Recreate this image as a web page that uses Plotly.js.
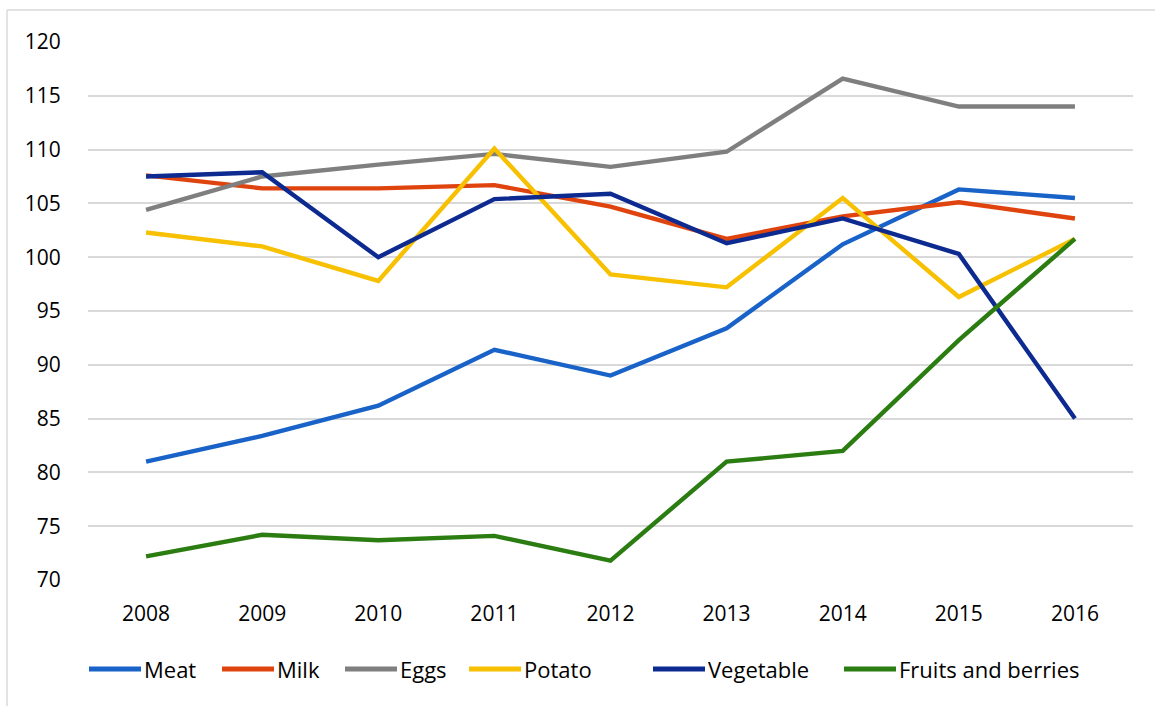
<!DOCTYPE html>
<html>
<head>
<meta charset="utf-8">
<script src="https://cdn.plot.ly/plotly-3.0.1.min.js"></script>
<style>
html,body{margin:0;padding:0;background:#fff;}
#chart{width:1155px;height:706px;}
</style>
</head>
<body>
<div id="chart"></div>
<script>
var years = ["2008","2009","2010","2011","2012","2013","2014","2015","2016"];
var meat = [81.0, 83.4, 86.2, 91.4, 89.0, 93.4, 101.2, 106.3, 105.5];
var milk = [107.6, 106.4, 106.4, 106.7, 104.7, 101.7, 103.8, 105.1, 103.6];
var eggs = [104.4, 107.5, 108.6, 109.6, 108.4, 109.8, 116.6, 114.0, 114.0];
var potato = [102.3, 101.0, 97.8, 110.1, 98.4, 97.2, 105.5, 96.3, 101.7];
var vegetable = [107.5, 107.9, 100.0, 105.4, 105.9, 101.3, 103.6, 100.3, 85.0];
var fruits = [72.2, 74.2, 73.7, 74.1, 71.8, 81.0, 82.0, 92.3, 101.7];

var seriesNames = ["Meat","Milk","Eggs","Potato","Vegetable","Fruits and berries"];
var seriesValues = [meat, milk, eggs, potato, vegetable, fruits];
var seriesColors = ["#1862c8","#e0440e","#7f7f7f","#f7c000","#0c2a90","#2b7d12"];

var traces = seriesNames.map(function(n,i){
  return {
    type:"scatter", mode:"lines", name:n, x:years, y:seriesValues[i],
    line:{color:seriesColors[i], width:4.4},
    hoverinfo:"x+y+name"
  };
});

var font = {family:"'Open Sans', 'Liberation Sans', Arial, sans-serif", size:21, color:"#000"};
var legendFont = {family:"'Open Sans', 'Liberation Sans', Arial, sans-serif", size:22, color:"#000"};

// Custom legend layout (pixel positions of legend samples in the figure)
var plotLeft = 88, plotWidth = 1045, plotBottom = 580, plotHeight = 538;
var legendStarts = [87, 220, 343, 467, 651, 842];
var sampleLen = 56, legendY = 669;
function px2x(p){ return (p - plotLeft) / plotWidth; }
var ly = -(legendY - plotBottom) / plotHeight;

var shapes = [
  {type:"line", xref:"paper", yref:"paper", x0:-0.0775, x1:1.1, y0:1.0595, y1:1.0595,
   line:{color:"#d9d9d9", width:1.5}},
  {type:"line", xref:"paper", yref:"paper", x0:-0.0775, x1:-0.0775, y0:1.0595, y1:-0.3,
   line:{color:"#d9d9d9", width:1.5}}
];
var annotations = [];
seriesNames.forEach(function(n,i){
  var s = legendStarts[i];
  shapes.push({type:"line", xref:"paper", yref:"paper",
    x0:px2x(s+2), x1:px2x(s+sampleLen-2), y0:ly, y1:ly,
    line:{color:seriesColors[i], width:5}});
  annotations.push({xref:"paper", yref:"paper", x:px2x(s+sampleLen+1), y:ly,
    xanchor:"left", yanchor:"middle", text:n, showarrow:false, font:legendFont,
    borderpad:0, borderwidth:0});
});

var layout = {
  width:1155, height:706,
  margin:{l:88, r:22, t:42, b:126},
  paper_bgcolor:"#fff", plot_bgcolor:"#fff",
  font:font,
  showlegend:false,
  xaxis:{type:"category", range:[-0.5,8.5], showgrid:false, zeroline:false,
         showline:false, ticks:"outside", ticklen:15, tickcolor:"rgba(0,0,0,0)",
         tickfont:font, fixedrange:true},
  yaxis:{range:[70,120], dtick:5, tick0:70, showgrid:true, gridcolor:"#d9d9d9", gridwidth:1.6,
         zeroline:false, showline:false, ticks:"outside", ticklen:22, tickcolor:"rgba(0,0,0,0)",
         tickfont:font, fixedrange:true},
  shapes:shapes,
  annotations:annotations
};

Plotly.newPlot("chart", traces, layout, {displayModeBar:false, responsive:false});
</script>
</body>
</html>
